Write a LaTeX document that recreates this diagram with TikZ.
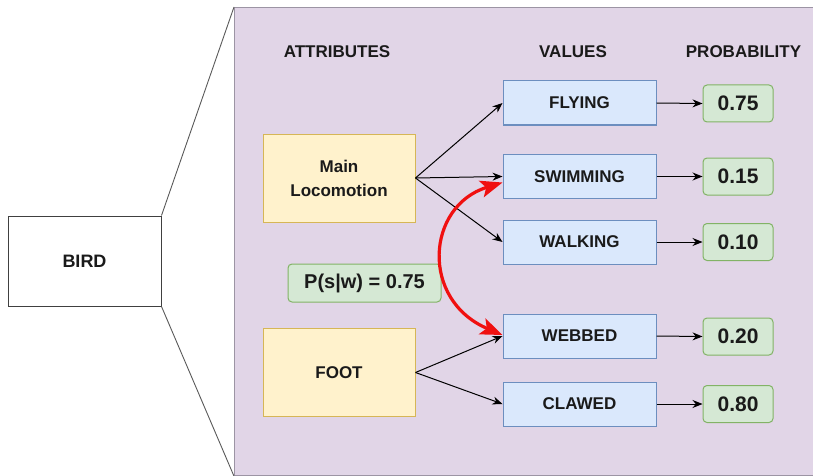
\documentclass[tikz,border=0pt]{standalone}
\usepackage{fontspec}
\setmainfont{Liberation Sans}
\usetikzlibrary{arrows.meta}
\definecolor{panelF}{HTML}{E1D5E7}
\definecolor{panelS}{HTML}{9C94A4}
\definecolor{yelF}{HTML}{FFF2CC}
\definecolor{yelS}{HTML}{D6B656}
\definecolor{bluF}{HTML}{DAE8FC}
\definecolor{bluS}{HTML}{6C8EBF}
\definecolor{grnF}{HTML}{D5E8D4}
\definecolor{grnS}{HTML}{82B366}
\definecolor{redA}{HTML}{F01010}
\definecolor{txt}{HTML}{1A1A1A}
\tikzset{
  hdr/.style={font=\fontsize{17}{20}\selectfont\bfseries, text=txt, inner sep=0pt},
  attrbox/.style={draw=yelS, fill=yelF, line width=1pt, minimum width=152pt, minimum height=88pt, inner sep=0pt, align=center, font=\fontsize{17}{24}\selectfont\bfseries, text=txt},
  valbox/.style={draw=bluS, fill=bluF, line width=1pt, minimum width=153pt, minimum height=44pt, inner sep=0pt, font=\fontsize{17}{20}\selectfont\bfseries, text=txt},
  probbox/.style={draw=grnS, fill=grnF, line width=1pt, rounded corners=4pt, minimum width=70pt, minimum height=37pt, inner sep=0pt, font=\fontsize{21}{24}\selectfont\bfseries, text=txt},
  conn/.style={line width=1pt, -{Stealth[length=10pt,width=8pt]}, black},
  zoomline/.style={line width=0.9pt, draw=black!65},
  redarrow/.style={draw=redA, line width=3.2pt, >={Stealth[length=22pt,width=17pt,inset=5pt]}, <->},
}
\begin{document}
\begin{tikzpicture}[x=1pt,y=-1pt]
\useasboundingbox (0,0) rectangle (813,476);
% panel
\node[fill=panelF, draw=panelS, line width=1.2pt, minimum width=600pt, minimum height=468pt, inner sep=0pt, anchor=north west] (panel) at (234,7) {};
% bird
\node[draw=black!75, fill=white, line width=1pt, minimum width=153pt, minimum height=90pt, inner sep=0pt, font=\fontsize{18}{20}\selectfont\bfseries, text=txt] (bird) at (84.5,261) {BIRD};
\draw[zoomline] (bird.north east) -- (panel.north west);
\draw[zoomline] (bird.south east) -- (panel.south west);
% headers
\node[hdr] (h1) at (337,52) {ATTRIBUTES};
\node[hdr] (h2) at (573,52) {VALUES};
\node[hdr] (h3) at (743.5,52) {PROBABILITY};
% attributes
\node[attrbox] (loco) at (339,178) {Main\\Locomotion};
\node[attrbox] (foot) at (339,372.5) {FOOT};
% values
\node[valbox] (fly) at (579.5,103) {FLYING};
\node[valbox] (swim) at (579.5,176.5) {SWIMMING};
\node[valbox] (walk) at (579.5,242) {WALKING};
\node[valbox] (web) at (579.5,336) {WEBBED};
\node[valbox] (claw) at (579.5,404) {CLAWED};
% probabilities
\node[probbox] (p1) at (738,103.5) {0.75};
\node[probbox] (p2) at (738,176.5) {0.15};
\node[probbox] (p3) at (738,242) {0.10};
\node[probbox] (p4) at (738,336.5) {0.20};
\node[probbox] (p5) at (738,404) {0.80};
% conditional
\node[probbox, minimum width=153pt, minimum height=38pt, font=\fontsize{20}{24}\selectfont\bfseries] (cond) at (364.5,283) {P(s|w) = 0.75};
% connectors
\draw[conn] (loco.east) -- (fly.west);
\draw[conn] (loco.east) -- (swim.west);
\draw[conn] (loco.east) -- (walk.west);
\draw[conn] (foot.east) -- (web.west);
\draw[conn] (foot.east) -- (claw.west);
\draw[conn] (fly.east) -- (p1.west);
\draw[conn] (swim.east) -- (p2.west);
\draw[conn] (walk.east) -- (p3.west);
\draw[conn] (web.east) -- (p4.west);
\draw[conn] (claw.east) -- (p5.west);
% red curved double arrow
\coordinate (rs) at ([yshift=-6pt]swim.west);
\coordinate (re) at ([yshift=1pt]web.west);
\draw[redarrow] (rs) .. controls (426,206) and (420,300) .. (re);
\end{tikzpicture}
\end{document}
